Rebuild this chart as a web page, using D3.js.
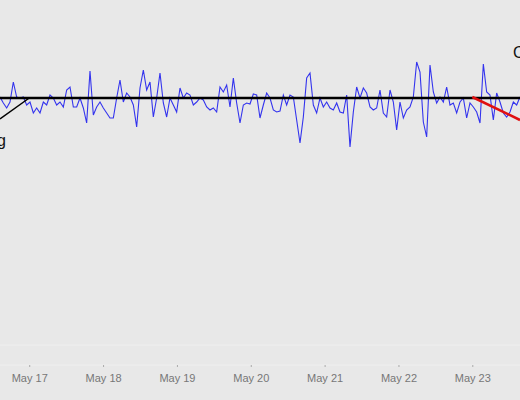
<!DOCTYPE html>
<html><head><meta charset="utf-8">
<script src="https://cdn.jsdelivr.net/npm/d3@7"></script>
<style>body{margin:0;background:#e8e8e8;}svg{display:block;}</style>
</head><body>
<svg width="520" height="400"></svg>
<script>
// readings (screen-down units), one every 65 minutes from May 16 14:30
const readings = [97,103,108,102,82,97,98,97,105,102,113,108,113,102,105,95,98,105,102,107,90,87,107,107,98,108,123,71,115,107,102,108,113,118,118,98,80,102,93,97,105,127,88,70,90,82,117,98,73,103,117,98,105,
  112,88,98,93,95,105,102,98,100,107,110,108,112,87,92,85,107,78,103,123,105,103,104,94,95,118,105,93,98,110,112,111,95,105,95,97,120,143,117,78,73,105,113,98,107,102,108,110,103,
  112,113,95,147,112,87,98,88,93,107,110,108,90,113,117,90,102,130,102,118,110,107,97,62,72,122,137,65,92,103,97,102,87,105,103,113,102,98,118,103,107,112,123,64,92,95,120,93,102,113,117,112,102,105,97];
const startTime = new Date(2024, 4, 16, 14, 30);
const stepMin = 65;
const tickDays = [17,18,19,20,21,22,23];
const baseLevel = 98;
const trendStart = {day: new Date(2024, 4, 23, 0, 0), level: 97};
const trendEnd = {day: new Date(2024, 4, 23, 15, 30), level: 120};
const pointerStart = {day: new Date(2024, 4, 16, 14, 30), level: 119};
const pointerEnd = {day: new Date(2024, 4, 17, 0, 0), level: 98};

const svg = d3.select("svg");
const x = d3.scaleTime()
  .domain([new Date(2024, 4, 16, 14, 30), new Date(2024, 4, 23, 15, 30)])
  .range([0, 520]);
const y = d3.scaleLinear().domain([0, 400]).range([0, 400]);

const series = readings.map((v, i) => ({t: new Date(+startTime + i*stepMin*60000), v}));

// faint lines near the bottom
[345, 365].forEach(p => svg.append("line").attr("x1", 0).attr("x2", 520)
  .attr("y1", p).attr("y2", p).attr("stroke", "#efefef").attr("stroke-width", 1));

const axis = d3.axisBottom(x)
  .tickValues(tickDays.map(d => new Date(2024, 4, d)))
  .tickFormat(d3.timeFormat("%b %-d")).tickSize(2).tickPadding(7);
const g = svg.append("g").attr("transform", "translate(0,365)").call(axis);
g.select(".domain").remove();
g.selectAll("line").attr("stroke", "#aaa");
g.selectAll("text").attr("fill", "#777").style("font", "11px 'Liberation Sans', Arial, sans-serif");

const line = d3.line().x(d => x(d.t)).y(d => y(d.v));
svg.append("path").datum(series).attr("d", line)
  .attr("fill", "none").attr("stroke", "#3333ee").attr("stroke-width", 1.1);

svg.append("line").attr("x1", 0).attr("x2", 520)
  .attr("y1", y(baseLevel)).attr("y2", y(baseLevel))
  .attr("stroke", "#000").attr("stroke-width", 2.5);

svg.append("line").attr("x1", x(trendStart.day)).attr("y1", y(trendStart.level))
  .attr("x2", x(trendEnd.day)).attr("y2", y(trendEnd.level))
  .attr("stroke", "#e01010").attr("stroke-width", 2.5);

svg.append("line").attr("x1", x(pointerStart.day)).attr("y1", y(pointerStart.level))
  .attr("x2", x(pointerEnd.day)).attr("y2", y(pointerEnd.level))
  .attr("stroke", "#000").attr("stroke-width", 1.5);

svg.append("text").attr("x", -3).attr("y", 146).text("g")
  .style("font", "16px 'Liberation Sans', Arial, sans-serif").attr("fill", "#111");
svg.append("text").attr("x", 513).attr("y", 58).text("C")
  .style("font", "16px 'Liberation Sans', Arial, sans-serif").attr("fill", "#111");
</script>
</body></html>
